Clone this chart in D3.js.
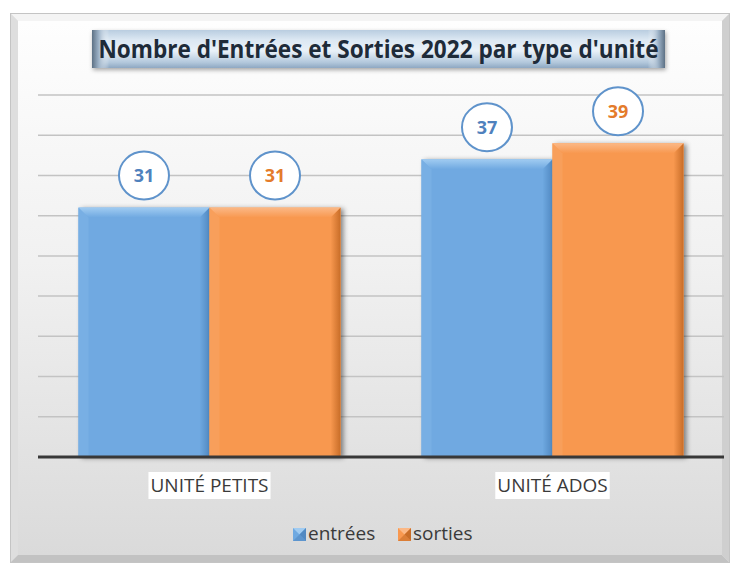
<!DOCTYPE html>
<html>
<head>
<meta charset="utf-8">
<script src="https://cdn.jsdelivr.net/npm/d3@7"></script>
<style>
	body { margin: 0; background: #ffffff; }
	svg { display: block; font-family: 'Open Sans', sans-serif; }
</style>
</head>
<body>
<div id="graphic"></div>
<script>

// data
var categories = ['UNITÉ PETITS', 'UNITÉ ADOS'];
var seriesNames = ['entrées', 'sorties'];
var entrees = [31, 37];
var sorties = [31, 39];
var gridTicks = [5, 10, 15, 20, 25, 30, 35, 40, 45];
var titleText = "Nombre d'Entrées et Sorties 2022 par type d'unité";

renderGraphic({ container: 'graphic', width: 739, height: 567 });

function renderGraphic(config) {

	var width = config.width,
		height = config.height;

	var plot = { left: 38, right: 724, top: 95, bottom: 457 };

	var colors = {
		'entrées': { body: '#6fa9e1', top: '#a0cbf1', left: '#78afe4', right: '#5189c2', text: '#4f81bd' },
		'sorties': { body: '#f8984f', top: '#fbb886', left: '#f89f5b', right: '#c86d28', text: '#e47b2b' }
	};

	var svg = d3.select('#' + config.container).append('svg')
		.attr('width', width)
		.attr('height', height);

	var defs = svg.append('defs');

	function vGrad(id, stops) {
		var g = defs.append('linearGradient').attr('id', id)
			.attr('x1', 0).attr('y1', 0).attr('x2', 0).attr('y2', 1);
		stops.forEach(function(s) {
			g.append('stop').attr('offset', s[0]).attr('stop-color', s[1]);
		});
	}
	function hGrad(id, stops) {
		var g = defs.append('linearGradient').attr('id', id)
			.attr('x1', 0).attr('y1', 0).attr('x2', 1).attr('y2', 0);
		stops.forEach(function(s) {
			g.append('stop').attr('offset', s[0]).attr('stop-color', s[1]);
		});
	}

	vGrad('bgGrad', [[0, '#fefefe'], [0.45, '#f1f1f1'], [1, '#dadada']]);
	vGrad('titleGrad', [[0, '#b9cde0'], [0.25, '#dbe7f2'], [0.55, '#e9f1f8'], [0.85, '#b3c8dc'], [1, '#8ea8c2']]);
	hGrad('titleEdge', [[0, '#5d7185'], [0.012, '#9fb4c9'], [0.03, 'rgba(255,255,255,0)'], [0.97, 'rgba(255,255,255,0)'], [0.988, '#9fb4c9'], [1, '#5d7185']]);
	seriesNames.forEach(function(s, i) {
		hGrad('rightEdge' + i, [[0, colors[s].body], [1, colors[s].right]]);
		vGrad('topEdge' + i, [[0, colors[s].top], [1, colors[s].body]]);
	});

	var shadow = defs.append('filter').attr('id', 'barShadow')
		.attr('x', '-10%').attr('y', '-10%').attr('width', '130%').attr('height', '120%');
	shadow.append('feDropShadow')
		.attr('dx', 3).attr('dy', 1).attr('stdDeviation', 2.5)
		.attr('flood-color', '#000').attr('flood-opacity', 0.45);

	var titleShadow = defs.append('filter').attr('id', 'titleShadow')
		.attr('x', '-5%').attr('y', '-20%').attr('width', '110%').attr('height', '160%');
	titleShadow.append('feDropShadow')
		.attr('dx', 1).attr('dy', 2).attr('stdDeviation', 2)
		.attr('flood-color', '#000').attr('flood-opacity', 0.35);

	// 1. frame
	svg.append('rect')
		.attr('x', 10.5).attr('y', 13.5)
		.attr('width', 719).attr('height', 549)
		.attr('fill', '#e4e4e4')
		.attr('stroke', '#c4c4c4');

	// bevel: light top/left, dark bottom/right
	svg.append('polygon')
		.attr('points', '11,14 729,14 722,21 18,21')
		.attr('fill', '#f4f4f4');
	svg.append('polygon')
		.attr('points', '11,14 18,21 18,555 11,562')
		.attr('fill', '#dedede');
	svg.append('polygon')
		.attr('points', '11,562 18,555 722,555 729,562')
		.attr('fill', '#c2c2c2');
	svg.append('polygon')
		.attr('points', '729,14 722,21 722,555 729,562')
		.attr('fill', '#cfcfcf');

	svg.append('rect')
		.attr('x', 18).attr('y', 21)
		.attr('width', 704).attr('height', 534)
		.attr('fill', 'url(#bgGrad)');

	// 2. scales
	var x0 = d3.scaleBand()
		.domain(categories)
		.range([plot.left, plot.right])
		.paddingInner(0.236)
		.paddingOuter(0.118);

	var x1 = d3.scaleBand()
		.domain(seriesNames)
		.range([0, x0.bandwidth()]);

	var y = d3.scaleLinear()
		.domain([0, 45])
		.range([plot.bottom, plot.top]);

	// 3. gridlines
	svg.append('g')
		.attr('class', 'grid')
		.selectAll('line')
		.data(gridTicks)
		.enter().append('line')
		.attr('x1', plot.left).attr('x2', plot.right)
		.attr('y1', function(d) { return y(d); })
		.attr('y2', function(d) { return y(d); })
		.attr('stroke', '#c3c3c3')
		.attr('stroke-width', 1.5);

	// 4. bars
	var rows = categories.map(function(c, i) {
		return { cat: c, values: [
			{ series: 'entrées', idx: 0, value: entrees[i] },
			{ series: 'sorties', idx: 1, value: sorties[i] }
		] };
	});

	var groups = svg.append('g').attr('class', 'bars')
		.selectAll('g.group')
		.data(rows).enter()
		.append('g')
		.attr('class', 'group')
		.attr('transform', function(d) { return 'translate(' + x0(d.cat) + ',0)'; });

	var bar = groups.selectAll('g.bar')
		.data(function(d) { return d.values; })
		.enter().append('g')
		.attr('class', 'bar');

	var bev = 10;

	bar.append('rect')
		.attr('x', function(d) { return x1(d.series); })
		.attr('y', function(d) { return y(d.value); })
		.attr('width', x1.bandwidth())
		.attr('height', function(d) { return y(0) - y(d.value); })
		.attr('fill', function(d) { return colors[d.series].body; })
		.attr('filter', 'url(#barShadow)');

	// left bevel
	bar.append('polygon')
		.attr('points', function(d) {
			var xl = x1(d.series), yt = y(d.value), yb = y(0);
			return [[xl, yt], [xl + bev, yt + bev], [xl + bev, yb], [xl, yb]].join(' ');
		})
		.attr('fill', function(d) { return colors[d.series].left; });

	// right bevel
	bar.append('polygon')
		.attr('points', function(d) {
			var xr = x1(d.series) + x1.bandwidth(), yt = y(d.value), yb = y(0);
			return [[xr, yt], [xr - bev, yt + bev], [xr - bev, yb], [xr, yb]].join(' ');
		})
		.attr('fill', function(d) { return 'url(#rightEdge' + d.idx + ')'; });

	// top bevel
	bar.append('polygon')
		.attr('points', function(d) {
			var xl = x1(d.series), xr = xl + x1.bandwidth(), yt = y(d.value);
			return [[xl, yt], [xr, yt], [xr - bev, yt + bev], [xl + bev, yt + bev]].join(' ');
		})
		.attr('fill', function(d) { return 'url(#topEdge' + d.idx + ')'; });

	// 5. baseline
	svg.append('line')
		.attr('x1', plot.left).attr('x2', plot.right)
		.attr('y1', y(0)).attr('y2', y(0))
		.attr('stroke', '#383838')
		.attr('stroke-width', 3);

	// 6. data labels in circles
	var lbl = bar.append('g')
		.attr('class', 'label')
		.attr('transform', function(d) {
			return 'translate(' + (x1(d.series) + x1.bandwidth() / 2) + ',' + (y(d.value) - 32) + ')';
		});

	lbl.append('ellipse')
		.attr('rx', 25).attr('ry', 24)
		.attr('fill', '#ffffff')
		.attr('stroke', '#5f93cb')
		.attr('stroke-width', 2);

	lbl.append('text')
		.attr('text-anchor', 'middle')
		.attr('dy', '0.36em')
		.attr('font-size', 18)
		.attr('font-weight', 'bold')
		.attr('fill', function(d) { return colors[d.series].text; })
		.text(function(d) { return d.value; });

	// 7. category labels
	var cats = svg.append('g').attr('class', 'axis-x')
		.selectAll('g')
		.data(categories).enter()
		.append('g')
		.attr('transform', function(d) { return 'translate(' + (x0(d) + x0.bandwidth() / 2) + ',492)'; });

	cats.append('rect').attr('fill', '#ffffff');
	cats.append('text')
		.attr('text-anchor', 'middle')
		.attr('font-size', 19)
		.attr('fill', '#3a3a3a')
		.text(function(d) { return d; });

	cats.each(function() {
		var g = d3.select(this),
			bb = g.select('text').node().getBBox();
		g.select('rect')
			.attr('x', bb.x - 2).attr('y', bb.y)
			.attr('width', bb.width + 4).attr('height', bb.height + 1);
	});

	// 8. title
	var title = svg.append('g').attr('class', 'title');
	title.append('rect')
		.attr('x', 92).attr('y', 30)
		.attr('width', 573).attr('height', 38)
		.attr('fill', 'url(#titleGrad)')
		.attr('filter', 'url(#titleShadow)');
	title.append('rect')
		.attr('x', 92).attr('y', 30)
		.attr('width', 573).attr('height', 38)
		.attr('fill', 'url(#titleEdge)');
	title.append('text')
		.attr('x', 378.5).attr('y', 58)
		.attr('text-anchor', 'middle')
		.attr('font-size', 25)
		.attr('font-weight', 'bold')
		.attr('textLength', 560)
		.attr('lengthAdjust', 'spacingAndGlyphs')
		.attr('fill', '#1e2b39')
		.text(titleText);

	// 9. legend
	var legend = svg.append('g').attr('class', 'legend')
		.attr('transform', 'translate(293,528)');

	var legItems = legend.selectAll('g')
		.data(seriesNames).enter()
		.append('g')
		.attr('transform', function(d, i) { return 'translate(' + (i * 105) + ',0)'; });

	legItems.append('rect')
		.attr('width', 13).attr('height', 13)
		.attr('fill', function(d) { return colors[d].body; });
	legItems.append('polygon')
		.attr('points', '0,0 13,0 6.5,6.5')
		.attr('fill', function(d) { return colors[d].top; });
	legItems.append('polygon')
		.attr('points', '13,0 13,13 6.5,6.5')
		.attr('fill', function(d) { return colors[d].right; });
	legItems.append('polygon')
		.attr('points', '0,13 13,13 6.5,6.5')
		.attr('fill', function(d) { return colors[d].right; })
		.attr('opacity', 0.6);

	legItems.append('text')
		.attr('x', 15).attr('y', 12)
		.attr('font-size', 19)
		.attr('fill', '#3a3a3a')
		.text(function(d) { return d; });

} // end of renderGraphic()

</script>
</body>
</html>
